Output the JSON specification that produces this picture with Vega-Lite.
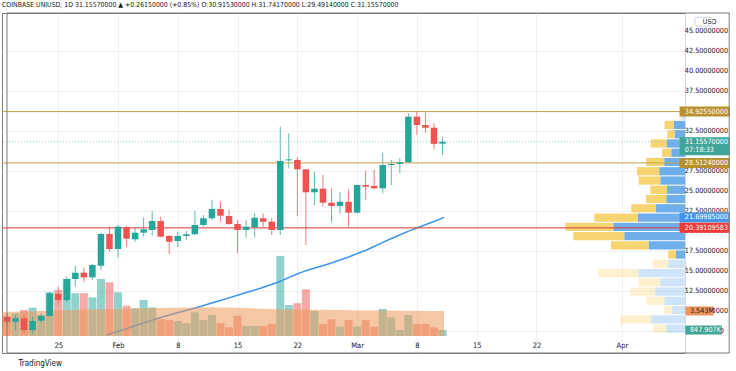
{
  "$schema": "https://vega.github.io/schema/vega-lite/v6.json",
  "width": 683,
  "height": 340,
  "autosize": {"type": "none"},
  "padding": {"left": 2, "top": 13, "right": 51, "bottom": 18},
  "background": "white",
  "config": {
    "view": {"stroke": "#7a7a7a", "strokeWidth": 1},
    "font": "Liberation Sans Narrow, DejaVu Sans Condensed, Liberation Sans, sans-serif"
  },
  "title": {
    "text": "COINBASE:UNIUSD, 1D 31.15570000 ▲ +0.26150000 (+0.85%) O:30.91530000 H:31.74170000 L:29.49140000 C:31.15570000",
    "anchor": "start",
    "frame": "group",
    "offset": 4,
    "fontSize": 6.9,
    "fontWeight": "normal",
    "color": "#131722"
  },
  "datasets": {
    "candles": [
      {"d": "2021-01-19", "o": 9.29, "h": 9.75, "l": 8.25, "c": 8.66, "v": 2.73, "vma": 3.39, "ma": null},
      {"d": "2021-01-20", "o": 8.66, "h": 9.5, "l": 7.63, "c": 9.09, "v": 3.21, "vma": 3.42, "ma": null},
      {"d": "2021-01-21", "o": 9.09, "h": 9.5, "l": 7.29, "c": 7.63, "v": 3.68, "vma": 3.45, "ma": null},
      {"d": "2021-01-22", "o": 7.63, "h": 9.29, "l": 7.21, "c": 8.75, "v": 4.0, "vma": 3.48, "ma": null},
      {"d": "2021-01-23", "o": 8.79, "h": 9.71, "l": 8.46, "c": 9.38, "v": 2.97, "vma": 3.52, "ma": null},
      {"d": "2021-01-24", "o": 9.38, "h": 12.41, "l": 9.29, "c": 12.21, "v": 6.18, "vma": 3.56, "ma": null},
      {"d": "2021-01-25", "o": 12.13, "h": 13.04, "l": 10.96, "c": 11.38, "v": 6.51, "vma": 3.6, "ma": null},
      {"d": "2021-01-26", "o": 11.38, "h": 14.29, "l": 11.16, "c": 14.0, "v": 8.06, "vma": 3.64, "ma": null},
      {"d": "2021-01-27", "o": 14.0, "h": 15.63, "l": 13.04, "c": 14.79, "v": 6.04, "vma": 3.68, "ma": null},
      {"d": "2021-01-28", "o": 14.79, "h": 15.46, "l": 13.58, "c": 14.21, "v": 6.04, "vma": 3.71, "ma": null},
      {"d": "2021-01-29", "o": 14.21, "h": 15.88, "l": 13.88, "c": 15.75, "v": 5.47, "vma": 3.74, "ma": null},
      {"d": "2021-01-30", "o": 15.66, "h": 19.79, "l": 15.13, "c": 19.63, "v": 8.06, "vma": 3.77, "ma": null},
      {"d": "2021-01-31", "o": 19.63, "h": 20.63, "l": 17.41, "c": 17.75, "v": 7.6, "vma": 3.8, "ma": 6.96},
      {"d": "2021-02-01", "o": 17.75, "h": 20.75, "l": 16.71, "c": 20.54, "v": 6.18, "vma": 3.83, "ma": 7.31},
      {"d": "2021-02-02", "o": 20.46, "h": 20.63, "l": 18.04, "c": 19.04, "v": 4.29, "vma": 3.86, "ma": 7.67},
      {"d": "2021-02-03", "o": 18.96, "h": 20.54, "l": 18.66, "c": 19.79, "v": 3.92, "vma": 3.88, "ma": 8.03},
      {"d": "2021-02-04", "o": 19.79, "h": 21.71, "l": 19.29, "c": 20.21, "v": 5.09, "vma": 3.91, "ma": 8.38},
      {"d": "2021-02-05", "o": 20.13, "h": 22.5, "l": 19.41, "c": 21.25, "v": 4.03, "vma": 3.93, "ma": 8.73},
      {"d": "2021-02-06", "o": 21.25, "h": 21.79, "l": 19.21, "c": 19.29, "v": 2.4, "vma": 3.96, "ma": 9.09},
      {"d": "2021-02-07", "o": 19.38, "h": 19.5, "l": 17.13, "c": 18.66, "v": 2.26, "vma": 3.98, "ma": 9.4},
      {"d": "2021-02-08", "o": 18.75, "h": 19.92, "l": 18.04, "c": 19.38, "v": 2.12, "vma": 4.0, "ma": 9.71},
      {"d": "2021-02-09", "o": 19.38, "h": 20.0, "l": 18.88, "c": 19.59, "v": 1.8, "vma": 4.02, "ma": 10.0},
      {"d": "2021-02-10", "o": 19.59, "h": 22.5, "l": 19.5, "c": 20.75, "v": 3.35, "vma": 4.04, "ma": 10.29},
      {"d": "2021-02-11", "o": 20.75, "h": 22.0, "l": 20.54, "c": 21.59, "v": 2.26, "vma": 4.05, "ma": 10.59},
      {"d": "2021-02-12", "o": 21.59, "h": 23.88, "l": 21.38, "c": 22.75, "v": 2.97, "vma": 4.05, "ma": 10.93},
      {"d": "2021-02-13", "o": 22.75, "h": 23.66, "l": 21.16, "c": 21.91, "v": 1.8, "vma": 4.04, "ma": 11.25},
      {"d": "2021-02-14", "o": 21.88, "h": 22.71, "l": 20.75, "c": 20.88, "v": 1.23, "vma": 4.02, "ma": 11.58},
      {"d": "2021-02-15", "o": 20.88, "h": 21.38, "l": 17.21, "c": 20.13, "v": 2.87, "vma": 3.99, "ma": 11.9},
      {"d": "2021-02-16", "o": 20.13, "h": 21.38, "l": 19.21, "c": 20.54, "v": 1.41, "vma": 3.95, "ma": 12.24},
      {"d": "2021-02-17", "o": 20.46, "h": 22.21, "l": 19.21, "c": 21.66, "v": 1.41, "vma": 3.91, "ma": 12.56},
      {"d": "2021-02-18", "o": 21.59, "h": 22.21, "l": 20.54, "c": 21.16, "v": 1.41, "vma": 3.87, "ma": 12.91},
      {"d": "2021-02-19", "o": 21.16, "h": 21.59, "l": 19.5, "c": 20.13, "v": 1.7, "vma": 3.83, "ma": 13.29},
      {"d": "2021-02-20", "o": 20.13, "h": 33.04, "l": 19.5, "c": 28.75, "v": 11.32, "vma": 3.8, "ma": 13.66},
      {"d": "2021-02-21", "o": 28.83, "h": 32.21, "l": 27.84, "c": 28.95, "v": 4.38, "vma": 3.78, "ma": 14.14},
      {"d": "2021-02-22", "o": 28.88, "h": 29.21, "l": 21.88, "c": 27.71, "v": 4.63, "vma": 3.76, "ma": 14.6},
      {"d": "2021-02-23", "o": 27.71, "h": 27.75, "l": 18.25, "c": 24.84, "v": 6.61, "vma": 3.74, "ma": 15.01},
      {"d": "2021-02-24", "o": 24.84, "h": 27.41, "l": 23.25, "c": 25.29, "v": 3.54, "vma": 3.72, "ma": 15.34},
      {"d": "2021-02-25", "o": 25.29, "h": 27.0, "l": 23.04, "c": 23.54, "v": 1.7, "vma": 3.7, "ma": 15.66},
      {"d": "2021-02-26", "o": 23.54, "h": 25.34, "l": 21.16, "c": 23.13, "v": 2.36, "vma": 3.68, "ma": 15.99},
      {"d": "2021-02-27", "o": 23.13, "h": 24.91, "l": 22.21, "c": 23.66, "v": 1.32, "vma": 3.67, "ma": 16.38},
      {"d": "2021-02-28", "o": 23.66, "h": 25.21, "l": 20.54, "c": 22.29, "v": 2.26, "vma": 3.65, "ma": 16.75},
      {"d": "2021-03-01", "o": 22.29, "h": 25.8, "l": 22.21, "c": 25.75, "v": 1.32, "vma": 3.64, "ma": 17.18},
      {"d": "2021-03-02", "o": 25.75, "h": 27.54, "l": 23.88, "c": 25.54, "v": 2.26, "vma": 3.62, "ma": 17.6},
      {"d": "2021-03-03", "o": 25.63, "h": 27.63, "l": 25.2, "c": 25.34, "v": 1.32, "vma": 3.61, "ma": 18.09},
      {"d": "2021-03-04", "o": 25.34, "h": 29.79, "l": 24.71, "c": 28.25, "v": 3.82, "vma": 3.6, "ma": 18.61},
      {"d": "2021-03-05", "o": 28.25, "h": 28.88, "l": 25.75, "c": 28.38, "v": 2.64, "vma": 3.59, "ma": 19.09},
      {"d": "2021-03-06", "o": 28.38, "h": 29.09, "l": 27.21, "c": 28.59, "v": 0.85, "vma": 3.58, "ma": 19.56},
      {"d": "2021-03-07", "o": 28.59, "h": 34.75, "l": 28.45, "c": 34.29, "v": 2.97, "vma": 3.57, "ma": 20.01},
      {"d": "2021-03-08", "o": 34.29, "h": 34.9255, "l": 32.0, "c": 33.25, "v": 1.7, "vma": 3.56, "ma": 20.43},
      {"d": "2021-03-09", "o": 33.25, "h": 34.84, "l": 32.29, "c": 32.91, "v": 1.7, "vma": 3.55, "ma": 20.84},
      {"d": "2021-03-10", "o": 32.91, "h": 33.46, "l": 30.21, "c": 30.8942, "v": 1.23, "vma": 3.548, "ma": 21.25},
      {"d": "2021-03-11", "o": 30.9153, "h": 31.7417, "l": 29.4914, "c": 31.1557, "v": 0.848, "vma": 3.543, "ma": 21.69985}
    ],
    "profile": [
      {"hi": 34.926, "lo": 33.769, "s": "buy", "v": 0.85, "va": false},
      {"hi": 34.926, "lo": 33.769, "s": "sell", "v": 0.58, "va": false},
      {"hi": 33.769, "lo": 32.612, "s": "buy", "v": 2.85, "va": true},
      {"hi": 33.769, "lo": 32.612, "s": "sell", "v": 2.25, "va": true},
      {"hi": 32.612, "lo": 31.455, "s": "buy", "v": 2.6, "va": true},
      {"hi": 32.612, "lo": 31.455, "s": "sell", "v": 1.83, "va": true},
      {"hi": 31.455, "lo": 30.298, "s": "buy", "v": 4.5, "va": true},
      {"hi": 31.455, "lo": 30.298, "s": "sell", "v": 4.1, "va": true},
      {"hi": 30.298, "lo": 29.141, "s": "buy", "v": 3.43, "va": true},
      {"hi": 30.298, "lo": 29.141, "s": "sell", "v": 2.33, "va": true},
      {"hi": 29.141, "lo": 27.984, "s": "buy", "v": 5.18, "va": true},
      {"hi": 29.141, "lo": 27.984, "s": "sell", "v": 4.5, "va": true},
      {"hi": 27.984, "lo": 26.827, "s": "buy", "v": 6.43, "va": true},
      {"hi": 27.984, "lo": 26.827, "s": "sell", "v": 5.58, "va": true},
      {"hi": 26.827, "lo": 25.67, "s": "buy", "v": 6.18, "va": true},
      {"hi": 26.827, "lo": 25.67, "s": "sell", "v": 5.43, "va": true},
      {"hi": 25.67, "lo": 24.513, "s": "buy", "v": 4.5, "va": true},
      {"hi": 25.67, "lo": 24.513, "s": "sell", "v": 4.18, "va": true},
      {"hi": 24.513, "lo": 23.356, "s": "buy", "v": 4.68, "va": true},
      {"hi": 24.513, "lo": 23.356, "s": "sell", "v": 5.08, "va": true},
      {"hi": 23.356, "lo": 22.199, "s": "buy", "v": 7.25, "va": true},
      {"hi": 23.356, "lo": 22.199, "s": "sell", "v": 6.18, "va": true},
      {"hi": 22.199, "lo": 21.042, "s": "buy", "v": 11.75, "va": true},
      {"hi": 22.199, "lo": 21.042, "s": "sell", "v": 10.93, "va": true},
      {"hi": 21.042, "lo": 19.885, "s": "buy", "v": 17.93, "va": true},
      {"hi": 21.042, "lo": 19.885, "s": "sell", "v": 12.0, "va": true},
      {"hi": 19.885, "lo": 18.728, "s": "buy", "v": 15.18, "va": true},
      {"hi": 19.885, "lo": 18.728, "s": "sell", "v": 12.75, "va": true},
      {"hi": 18.728, "lo": 17.571, "s": "buy", "v": 9.1, "va": true},
      {"hi": 18.728, "lo": 17.571, "s": "sell", "v": 9.4, "va": true},
      {"hi": 17.571, "lo": 16.414, "s": "buy", "v": 2.25, "va": true},
      {"hi": 17.571, "lo": 16.414, "s": "sell", "v": 1.93, "va": true},
      {"hi": 16.414, "lo": 15.257, "s": "buy", "v": 4.18, "va": false},
      {"hi": 16.414, "lo": 15.257, "s": "sell", "v": 3.93, "va": false},
      {"hi": 15.257, "lo": 14.1, "s": "buy", "v": 11.6, "va": false},
      {"hi": 15.257, "lo": 14.1, "s": "sell", "v": 10.0, "va": false},
      {"hi": 14.1, "lo": 12.943, "s": "buy", "v": 6.18, "va": false},
      {"hi": 14.1, "lo": 12.943, "s": "sell", "v": 5.43, "va": false},
      {"hi": 12.943, "lo": 11.786, "s": "buy", "v": 7.43, "va": false},
      {"hi": 12.943, "lo": 11.786, "s": "sell", "v": 6.25, "va": false},
      {"hi": 11.786, "lo": 10.629, "s": "buy", "v": 5.18, "va": false},
      {"hi": 11.786, "lo": 10.629, "s": "sell", "v": 4.5, "va": false},
      {"hi": 10.629, "lo": 9.472, "s": "buy", "v": 3.25, "va": false},
      {"hi": 10.629, "lo": 9.472, "s": "sell", "v": 1.93, "va": false},
      {"hi": 9.472, "lo": 8.315, "s": "buy", "v": 8.43, "va": false},
      {"hi": 9.472, "lo": 8.315, "s": "sell", "v": 7.75, "va": false},
      {"hi": 8.315, "lo": 7.158, "s": "buy", "v": 4.6, "va": false},
      {"hi": 8.315, "lo": 7.158, "s": "sell", "v": 3.33, "va": false}
    ],
    "levels": [
      {"p": 34.9255, "k": "gold"},
      {"p": 28.5124, "k": "gold"},
      {"p": 20.39109583, "k": "red"},
      {"p": 31.1557, "k": "cur"}
    ],
    "yticks": [
      {"p": 7.5}, {"p": 10}, {"p": 12.5}, {"p": 15}, {"p": 17.5}, {"p": 20}, {"p": 22.5}, {"p": 25},
      {"p": 27.5}, {"p": 30}, {"p": 32.5}, {"p": 35}, {"p": 37.5}, {"p": 40}, {"p": 42.5}, {"p": 45}
    ],
    "ptags": [
      {"p": 34.9255, "t": "34.92550000", "k": "tgold"},
      {"p": 28.5124, "t": "28.51240000", "k": "tgold"},
      {"p": 21.69985, "t": "21.69985000", "k": "tblue"},
      {"p": 20.39109583, "t": "20.39109583", "k": "tred"}
    ],
    "curtag": [
      {"p": 31.1557, "t": "31.15570000", "sub": "07:18:33"}
    ],
    "vtagma": [{"v": 3.543, "t": "3.543M"}],
    "vtaglast": [{"v": 0.848, "t": "847.907K"}]
  },
  "resolve": {
    "scale": {"x": "independent", "y": "independent", "color": "independent", "opacity": "independent"},
    "axis": {"x": "independent", "y": "independent"}
  },
  "layer": [
    {
      "data": {"name": "candles"},
      "mark": {"type": "bar", "size": 8, "clip": true, "opacity": 0.5},
      "encoding": {
        "x": {"field": "d", "type": "temporal", "axis": null,
          "scale": {"type": "utc", "nice": false, "domain": [{"year": 2021, "month": 1, "date": 19, "utc": true}, {"year": 2021, "month": 4, "date": 7, "hours": 19, "minutes": 26, "utc": true}]}},
        "y": {"field": "v", "type": "quantitative", "axis": null, "scale": {"domain": [-2.4045, 45.686], "zero": false, "nice": false}},
        "y2": {"datum": 0},
        "color": {"condition": {"test": "datum.c >= datum.o", "value": "#26a69a"}, "value": "#ef5350"}
      }
    },
    {
      "data": {"name": "candles"},
      "mark": {"type": "line", "color": "#3d95ea", "strokeWidth": 1.5, "clip": true},
      "encoding": {
        "x": {"field": "d", "type": "temporal", "axis": null,
          "scale": {"type": "utc", "nice": false, "domain": [{"year": 2021, "month": 1, "date": 19, "utc": true}, {"year": 2021, "month": 4, "date": 7, "hours": 19, "minutes": 26, "utc": true}]}},
        "y": {"field": "ma", "type": "quantitative", "axis": null, "scale": {"domain": [4.75, 47.25], "zero": false, "nice": false}}
      }
    },
    {
      "data": {"name": "candles"},
      "mark": {"type": "area", "color": "#ec9958", "opacity": 0.54, "clip": true},
      "encoding": {
        "x": {"field": "d", "type": "temporal", "axis": null,
          "scale": {"type": "utc", "nice": false, "domain": [{"year": 2021, "month": 1, "date": 19, "utc": true}, {"year": 2021, "month": 4, "date": 7, "hours": 19, "minutes": 26, "utc": true}]}},
        "y": {"field": "vma", "type": "quantitative", "axis": null, "scale": {"domain": [-2.4045, 45.686], "zero": false, "nice": false}},
        "y2": {"datum": 0}
      }
    },
    {
      "data": {"name": "profile"},
      "transform": [{"stack": "v", "groupby": ["hi"], "sort": [{"field": "s", "order": "ascending"}], "as": ["v0", "v1"]}],
      "mark": {"type": "rect", "y2Offset": -1},
      "encoding": {
        "x": {"field": "v0", "type": "quantitative", "axis": null, "scale": {"domain": [0, 170.75], "reverse": true, "nice": false, "zero": false}},
        "x2": {"field": "v1"},
        "y": {"field": "hi", "type": "quantitative", "axis": null, "scale": {"domain": [4.75, 47.25], "zero": false, "nice": false}},
        "y2": {"field": "lo"},
        "color": {"field": "s", "type": "nominal", "legend": null, "scale": {"domain": ["buy", "sell"], "range": ["#4a9ae6", "#f5c94f"]}},
        "opacity": {"condition": {"test": "datum.va", "value": 0.8}, "value": 0.27}
      }
    },
    {
      "layer": [
        {
          "data": {"name": "candles"},
          "mark": {"type": "rule", "strokeWidth": 1, "opacity": 0.75, "clip": true},
          "encoding": {
            "x": {"field": "d", "type": "temporal",
              "scale": {"type": "utc", "nice": false, "domain": [{"year": 2021, "month": 1, "date": 19, "utc": true}, {"year": 2021, "month": 4, "date": 7, "hours": 19, "minutes": 26, "utc": true}]},
              "axis": {
                "orient": "bottom",
                "values": [
                  {"year": 2021, "month": 1, "date": 25, "utc": true},
                  {"year": 2021, "month": 2, "date": 1, "utc": true},
                  {"year": 2021, "month": 2, "date": 8, "utc": true},
                  {"year": 2021, "month": 2, "date": 15, "utc": true},
                  {"year": 2021, "month": 2, "date": 22, "utc": true},
                  {"year": 2021, "month": 3, "date": 1, "utc": true},
                  {"year": 2021, "month": 3, "date": 8, "utc": true},
                  {"year": 2021, "month": 3, "date": 15, "utc": true},
                  {"year": 2021, "month": 3, "date": 22, "utc": true},
                  {"year": 2021, "month": 4, "date": 1, "utc": true}
                ],
                "labelExpr": "utcdate(datum.value) == 1 ? utcFormat(datum.value, '%b') : utcFormat(datum.value, '%-d')",
                "grid": true, "gridColor": "#eef0f5", "domain": false, "ticks": false, "tickSize": 0,
                "labelPadding": -12, "labelFontSize": 7.5, "labelColor": "#131722", "labelFlush": false, "labelOverlap": false,
                "title": "TradingView", "titleX": 16, "titleY": 10, "titleAlign": "left", "titleAnchor": "start", "titleBaseline": "middle",
                "titleFontSize": 8, "titleFontWeight": "normal", "titleColor": "#131722"
              }},
            "y": {"field": "h", "type": "quantitative", "scale": {"domain": [4.75, 47.25], "zero": false, "nice": false},
              "axis": {
                "orient": "right",
                "values": [7.5, 10, 12.5, 15, 17.5, 20, 22.5, 25, 27.5, 30, 32.5, 35, 37.5, 40, 42.5, 45],
                "labels": false,
                "grid": true, "gridColor": "#eef0f5", "domain": true, "domainColor": "#d6d8de", "ticks": false,
                "title": "USD", "titleAngle": 0, "titleX": 24, "titleY": 8.5, "titleAlign": "center", "titleBaseline": "middle",
                "titleFontSize": 7, "titleFontWeight": "normal", "titleColor": "#131722"
              }},
            "y2": {"field": "l"},
            "color": {"condition": {"test": "datum.c >= datum.o", "value": "#26a69a"}, "value": "#ef5350"}
          }
        },
        {
          "data": {"name": "levels"},
          "mark": {"type": "rule", "strokeWidth": 1},
          "encoding": {
            "y": {"field": "p", "type": "quantitative"},
            "color": {"field": "k", "type": "nominal", "legend": null,
              "scale": {"domain": ["gold", "red", "cur", "tgold", "tred", "tblue"], "range": ["#c8a046", "#e53935", "#8fc9c3", "#b8912f", "#ef3a35", "#4596e6"]}},
            "strokeDash": {"condition": {"test": "datum.k == 'cur'", "value": [1, 2]}, "value": [1, 0]}
          }
        },
        {
          "data": {"name": "candles"},
          "mark": {"type": "bar", "size": 6.5, "clip": true},
          "encoding": {
            "x": {"field": "d", "type": "temporal"},
            "y": {"field": "o", "type": "quantitative"},
            "y2": {"field": "c"},
            "color": {"condition": {"test": "datum.c >= datum.o", "value": "#26a69a"}, "value": "#ef5350"}
          }
        },
        {
          "data": {"name": "yticks"},
          "mark": {"type": "text", "align": "left", "baseline": "middle", "fontSize": 7.2, "color": "#131722"},
          "encoding": {
            "x": {"datum": {"year": 2021, "month": 4, "date": 8, "hours": 9, "minutes": 7, "utc": true}, "type": "temporal"},
            "y": {"field": "p", "type": "quantitative"},
            "text": {"field": "p", "type": "quantitative", "format": ".8f"}
          }
        },
        {
          "data": {"name": "ptags"},
          "mark": {"type": "tick", "orient": "horizontal", "size": 50, "thickness": 10, "opacity": 1},
          "encoding": {
            "x": {"datum": {"year": 2021, "month": 4, "date": 10, "hours": 16, "minutes": 34, "utc": true}, "type": "temporal"},
            "y": {"field": "p", "type": "quantitative"},
            "color": {"field": "k", "type": "nominal", "legend": null}
          }
        },
        {
          "data": {"name": "curtag"},
          "mark": {"type": "tick", "orient": "horizontal", "size": 50, "thickness": 18, "yOffset": 4.5, "color": "#3fa597", "opacity": 1},
          "encoding": {
            "x": {"datum": {"year": 2021, "month": 4, "date": 10, "hours": 16, "minutes": 34, "utc": true}, "type": "temporal"},
            "y": {"field": "p", "type": "quantitative"}
          }
        },
        {
          "data": {"name": "ptags"},
          "mark": {"type": "text", "align": "left", "baseline": "middle", "fontSize": 7.2, "color": "white"},
          "encoding": {
            "x": {"datum": {"year": 2021, "month": 4, "date": 8, "hours": 9, "minutes": 7, "utc": true}, "type": "temporal"},
            "y": {"field": "p", "type": "quantitative"},
            "text": {"field": "t"}
          }
        },
        {
          "data": {"name": "curtag"},
          "mark": {"type": "text", "align": "left", "baseline": "middle", "fontSize": 7.2, "color": "white"},
          "encoding": {
            "x": {"datum": {"year": 2021, "month": 4, "date": 8, "hours": 9, "minutes": 7, "utc": true}, "type": "temporal"},
            "y": {"field": "p", "type": "quantitative"},
            "text": {"field": "t"}
          }
        },
        {
          "data": {"name": "curtag"},
          "mark": {"type": "text", "align": "left", "baseline": "middle", "fontSize": 7.2, "color": "white", "dy": 8.5},
          "encoding": {
            "x": {"datum": {"year": 2021, "month": 4, "date": 8, "hours": 9, "minutes": 7, "utc": true}, "type": "temporal"},
            "y": {"field": "p", "type": "quantitative"},
            "text": {"field": "sub"}
          }
        },
        {
          "data": {"name": "curtag"},
          "mark": {"type": "rect", "fill": null, "fillOpacity": 0, "stroke": "#7a7a7a", "strokeWidth": 1, "clip": false},
          "encoding": {
            "x": {"datum": {"year": 2021, "month": 1, "date": 19, "utc": true}, "type": "temporal"},
            "x2": {"datum": {"year": 2021, "month": 4, "date": 13, "hours": 13, "minutes": 41, "utc": true}},
            "y": {"datum": 47.25, "type": "quantitative"},
            "y2": {"datum": 4.75}
          }
        },
        {
          "data": {"name": "curtag"},
          "mark": {"type": "rect", "fill": null, "fillOpacity": 0, "stroke": "#c9ccd4", "strokeWidth": 0.8, "cornerRadius": 2, "clip": false},
          "encoding": {
            "x": {"datum": {"year": 2021, "month": 4, "date": 9, "hours": 12, "minutes": 58, "utc": true}, "type": "temporal"},
            "x2": {"datum": {"year": 2021, "month": 4, "date": 11, "hours": 14, "minutes": 38, "utc": true}},
            "y": {"datum": 46.71, "type": "quantitative"},
            "y2": {"datum": 45.625}
          }
        }
      ]
    },
    {
      "layer": [
        {
          "data": {"name": "vtagma"},
          "mark": {"type": "tick", "orient": "horizontal", "size": 28, "thickness": 9, "color": "#f0955a", "opacity": 1},
          "encoding": {
            "x": {"datum": {"year": 2021, "month": 4, "date": 9, "hours": 12, "minutes": 0, "utc": true}, "type": "temporal", "axis": null,
              "scale": {"type": "utc", "nice": false, "domain": [{"year": 2021, "month": 1, "date": 19, "utc": true}, {"year": 2021, "month": 4, "date": 7, "hours": 19, "minutes": 26, "utc": true}]}},
            "y": {"field": "v", "type": "quantitative", "axis": null, "scale": {"domain": [-2.4045, 45.686], "zero": false, "nice": false}}
          }
        },
        {
          "data": {"name": "vtagma"},
          "mark": {"type": "text", "align": "left", "baseline": "middle", "fontSize": 7.2, "color": "#131722"},
          "encoding": {
            "x": {"datum": {"year": 2021, "month": 4, "date": 8, "hours": 9, "minutes": 7, "utc": true}, "type": "temporal"},
            "y": {"field": "v", "type": "quantitative"},
            "text": {"field": "t"}
          }
        },
        {
          "data": {"name": "vtaglast"},
          "mark": {"type": "tick", "orient": "horizontal", "size": 36.5, "thickness": 9, "color": "#3fa597", "opacity": 1},
          "encoding": {
            "x": {"datum": {"year": 2021, "month": 4, "date": 9, "hours": 23, "minutes": 2, "utc": true}, "type": "temporal"},
            "y": {"field": "v", "type": "quantitative"}
          }
        },
        {
          "data": {"name": "vtaglast"},
          "mark": {"type": "text", "align": "left", "baseline": "middle", "fontSize": 7.2, "color": "white"},
          "encoding": {
            "x": {"datum": {"year": 2021, "month": 4, "date": 8, "hours": 9, "minutes": 7, "utc": true}, "type": "temporal"},
            "y": {"field": "v", "type": "quantitative"},
            "text": {"field": "t"}
          }
        }
      ]
    }
  ]
}
